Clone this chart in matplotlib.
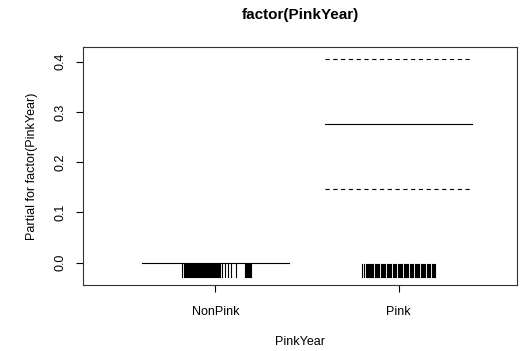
import matplotlib
matplotlib.use('Agg')
import matplotlib.pyplot as plt

plt.rcParams.update({'font.family': 'Liberation Sans', 'font.size': 9})

levels = ['NonPink', 'Pink']
partial = [0.0, 0.2755]
upper = [None, 0.4045]
lower = [None, 0.1465]

# rug positions, offset from each level's x position
rug_nonpink = [-0.182, -0.171, -0.166, -0.160, -0.155, -0.149, -0.144, -0.138, -0.133,
               -0.128, -0.122, -0.117, -0.111, -0.106, -0.100, -0.095, -0.089, -0.084,
               -0.078, -0.073, -0.068, -0.062, -0.057, -0.051, -0.046, -0.040, -0.035,
               -0.029, -0.024, -0.019, -0.013, -0.008, -0.002, 0.003, 0.009, 0.014,
               0.020, 0.025, 0.036, 0.052, 0.069, 0.085, 0.112,
               0.161, 0.167, 0.172, 0.178, 0.183, 0.188, 0.194]
rug_pink = [-0.199, -0.188, -0.177, -0.172, -0.166, -0.161, -0.155, -0.150, -0.144, -0.139,
            -0.128, -0.123, -0.117, -0.112, -0.106, -0.095, -0.090, -0.084, -0.079, -0.074,
            -0.063, -0.057, -0.052, -0.046, -0.041, -0.030, -0.025, -0.019, -0.014,
            -0.003, 0.003, 0.008, 0.014, 0.019, 0.030, 0.035, 0.041, 0.046, 0.052,
            0.063, 0.068, 0.074, 0.079, 0.090, 0.095, 0.101, 0.106, 0.112,
            0.123, 0.128, 0.134, 0.139, 0.144, 0.155, 0.161, 0.166, 0.172,
            0.183, 0.188, 0.193, 0.199]
rugs = [rug_nonpink, rug_pink]
yticks = [0.0, 0.1, 0.2, 0.3, 0.4]

fig = plt.figure(figsize=(5.23, 3.51), dpi=100)
ax = fig.add_axes([0.1587, 0.188, 0.83, 0.678])

for j in range(len(levels)):
    xc = j + 1
    ax.plot([xc - 0.4, xc + 0.4], [partial[j]] * 2, color='black', lw=0.8)
    if upper[j] is not None:
        ax.plot([xc - 0.4, xc + 0.4], [upper[j]] * 2, color='black', lw=0.8,
                dashes=(3.8, 3.2))
        ax.plot([xc - 0.4, xc + 0.4], [lower[j]] * 2, color='black', lw=0.8,
                dashes=(3.8, 3.2))
    for off in rugs[j]:
        ax.plot([xc + off] * 2, [-0.029, -0.0026], color='black', lw=0.8)

ax.set_xlim(0.2785, 2.6458)
ax.set_ylim(-0.0444, 0.4293)
ax.set_xticks([1, 2])
ax.set_xticklabels(levels)
ax.set_yticks(yticks)
ax.set_yticklabels([f'{v:.1f}' for v in yticks], rotation=90, va='center')
ax.tick_params(direction='out', length=5, width=0.8, pad=7)
ax.tick_params(axis='x', pad=10)
for s in ax.spines.values():
    s.set_linewidth(0.8)
    s.set_color('#333333')

ax.set_title('factor(PinkYear)', fontweight='bold', fontsize=11, pad=20)
ax.set_xlabel('PinkYear', labelpad=13)
ax.set_ylabel('Partial for factor(PinkYear)', labelpad=12)

fig.savefig('out.png', dpi=100)
